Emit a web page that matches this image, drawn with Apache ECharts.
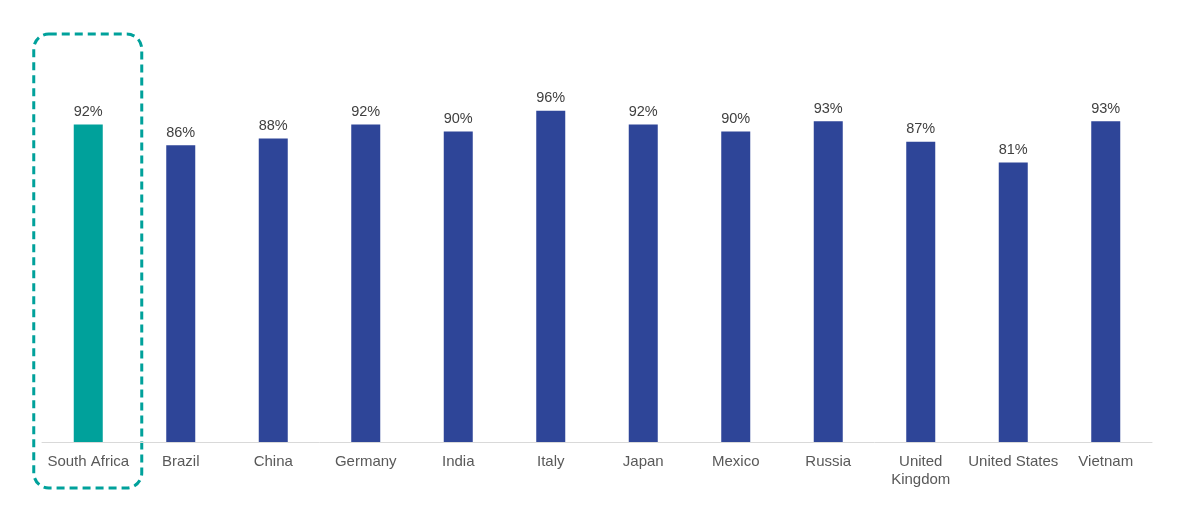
<!DOCTYPE html>
<html>
<head>
<meta charset="utf-8">
<script src="https://cdn.jsdelivr.net/npm/echarts@6/dist/echarts.min.js"></script>
<style>
  html, body { margin: 0; padding: 0; background: #fff; }
  #chart { width: 1191px; height: 509px; }
</style>
</head>
<body>
<div id="chart"></div>
<script>
const countries = ["South Africa", "Brazil", "China", "Germany", "India", "Italy", "Japan", "Mexico", "Russia", "United\nKingdom", "United States", "Vietnam"];
const shares = [92, 86, 88, 92, 90, 96, 92, 90, 93, 87, 81, 93];
const highlight = "South Africa";

const TEAL = "#00A19B";
const BLUE = "#2E4598";

const chart = echarts.init(document.getElementById("chart"), null, { renderer: "canvas" });

chart.setOption({
  animation: false,
  grid: { left: 42, right: 39, top: 97, bottom: 67 },
  xAxis: {
    type: "category",
    data: countries,
    axisLine: { lineStyle: { color: "#D9D9D9", width: 1 } },
    axisTick: { show: false },
    axisLabel: {
      color: "#595959",
      fontFamily: "Liberation Sans, Arial",
      fontSize: 15,
      margin: 11,
      lineHeight: 18,
      interval: 0
    }
  },
  yAxis: {
    type: "value",
    min: 0,
    max: 100,
    show: false,
    splitLine: { show: false }
  },
  series: [{
    type: "bar",
    barWidth: 29,
    data: shares.map((v, i) => ({
      value: v,
      itemStyle: { color: countries[i] === highlight ? TEAL : BLUE }
    })),
    label: {
      show: true,
      position: "top",
      distance: 5,
      formatter: p => p.value + "%",
      color: "#404040",
      fontFamily: "Liberation Sans, Arial",
      fontSize: 14.5
    }
  }]
});

// dashed frame around the highlighted category
const idx = countries.indexOf(highlight);
const cx = chart.convertToPixel({ xAxisIndex: 0 }, countries[idx]);
chart.setOption({
  graphic: [{
    type: "rect",
    shape: { x: cx - 54.5, y: 34, width: 108, height: 454, r: 15 },
    style: { fill: null, stroke: TEAL, lineWidth: 3, lineDash: [8, 5] },
    silent: true
  }]
});
</script>
</body>
</html>
